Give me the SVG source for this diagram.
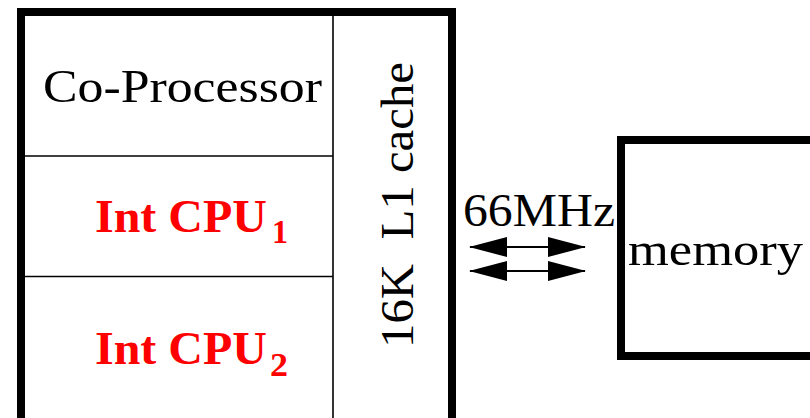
<svg xmlns="http://www.w3.org/2000/svg" width="810" height="418" viewBox="0 0 810 418">
<style>
.thick{fill:none;stroke:#000;stroke-width:8}
.thin{stroke:#000;stroke-width:1.6}
.lbl{font-family:"Liberation Serif","Times New Roman",serif;font-size:46px;fill:#000}
.red{font-family:"Liberation Serif","Times New Roman",serif;font-weight:bold;font-size:46px;fill:#ff0000}
.sub{font-family:"Liberation Serif","Times New Roman",serif;font-weight:bold;font-size:34px;fill:#ff0000}
.conn{stroke:#000;stroke-width:2;fill:none}
</style>
<defs>
<marker id="ah" viewBox="0 0 38 20" refX="37" refY="10" markerWidth="38" markerHeight="20" markerUnits="userSpaceOnUse" orient="auto-start-reverse">
<path d="M0,0 L38,10 L0,20 Z" fill="#000"/>
</marker>
</defs>
<rect width="810" height="418" fill="#fff"/>
<g id="chip">
<rect class="thick" x="21" y="12" width="431" height="412"/>
</g>
<g id="coprocessor">
<line class="thin" x1="21" y1="156" x2="333" y2="156"/>
<text class="lbl" x="43" y="102" textLength="279" lengthAdjust="spacingAndGlyphs">Co-Processor</text>
</g>
<g id="cpu1">
<line class="thin" x1="21" y1="276.5" x2="333" y2="276.5"/>
<text class="red" x="95" y="232" textLength="172" lengthAdjust="spacingAndGlyphs">Int CPU</text>
<text class="sub" x="272" y="243" textLength="16" lengthAdjust="spacingAndGlyphs">1</text>
</g>
<g id="cpu2">
<text class="red" x="95" y="364" textLength="172" lengthAdjust="spacingAndGlyphs">Int CPU</text>
<text class="sub" x="270" y="376" textLength="18" lengthAdjust="spacingAndGlyphs">2</text>
</g>
<g id="cache">
<line class="thin" x1="333" y1="12" x2="333" y2="418"/>
<text class="lbl" transform="translate(413,348) rotate(-90)" x="0" y="0" textLength="286" lengthAdjust="spacingAndGlyphs" xml:space="preserve">16K  L1 cache</text>
</g>
<g id="memory">
<rect class="thick" x="621" y="140" width="200" height="216"/>
<text class="lbl" x="628" y="265" textLength="175" lengthAdjust="spacingAndGlyphs">memory</text>
</g>
<g id="connectors">
<text class="lbl" x="463" y="226" textLength="152" lengthAdjust="spacingAndGlyphs">66MHz</text>
<line class="conn" x1="470" y1="247" x2="585" y2="247" marker-start="url(#ah)" marker-end="url(#ah)"/>
<line class="conn" x1="470" y1="271" x2="585" y2="271" marker-start="url(#ah)" marker-end="url(#ah)"/>
</g>
</svg>
